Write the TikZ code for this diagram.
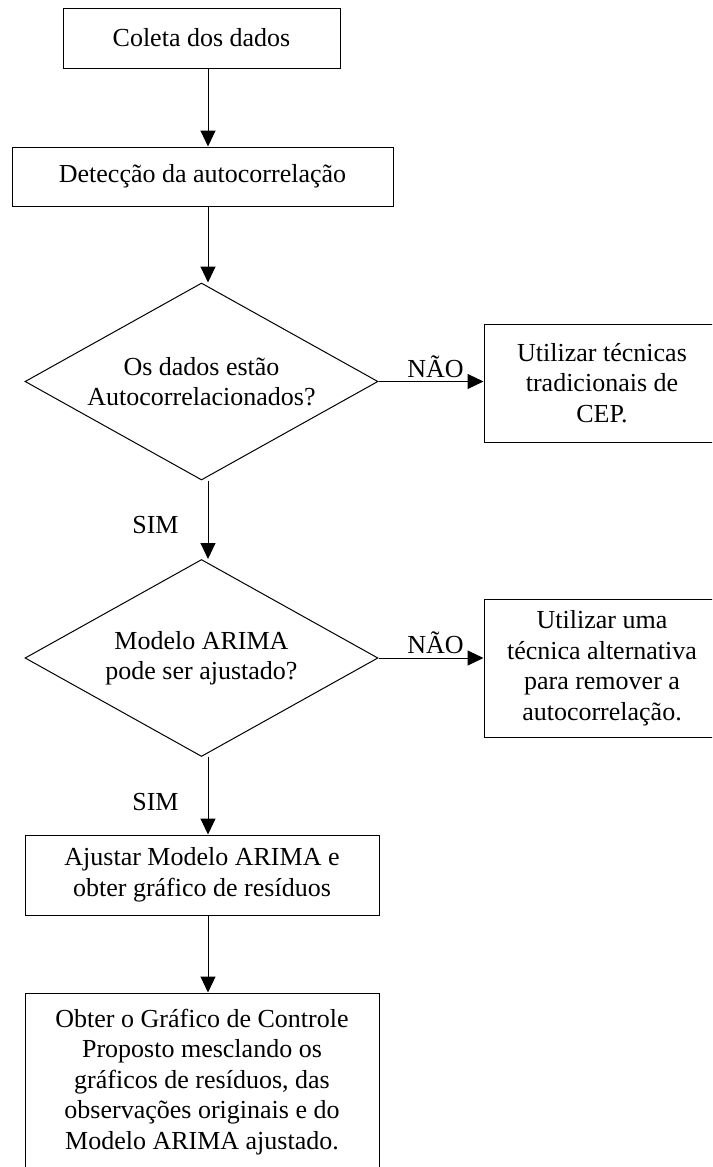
\documentclass[tikz,border=0pt]{standalone}
\usepackage{fontspec}
\setmainfont{Liberation Serif}
\usetikzlibrary{shapes.geometric,arrows.meta}
\tikzset{
  base/.style={draw, line width=1pt, inner sep=0pt, align=center, font=\fontsize{26}{30.5}\selectfont},
  procbox/.style={base, rectangle},
  decision/.style={base, diamond, shape aspect=1.79, minimum width=353pt, minimum height=197pt},
  arr/.style={line width=1pt, -{Triangle[length=16pt,width=15pt]}},
  lbl/.style={inner sep=0pt, font=\fontsize{26}{30}\selectfont}
}
\begin{document}
\begin{tikzpicture}[x=1pt,y=-1pt]
\useasboundingbox (0,0) rectangle (712,1167);
\clip (0,0) rectangle (712,1167);
\coordinate (col) at (208,0);
\node[procbox, minimum width=277pt, minimum height=60pt] (b1) at (201.5,38) {Coleta dos dados};
\node[procbox, minimum width=381pt, minimum height=59pt] (b2) at (202.5,176.5) {Detecção da autocorrelação};
\node[decision] (d1) at (201.5,381.5) {Os dados estão\\Autocorrelacionados?};
\node[procbox, minimum width=236pt, minimum height=118pt] (r1) at (602,383) {Utilizar técnicas\\tradicionais de\\CEP.};
\node[decision] (d2) at (201.5,658) {Modelo ARIMA\\pode ser ajustado?};
\node[procbox, minimum width=236pt, minimum height=138pt] (r2) at (602,668) {Utilizar uma\\técnica alternativa\\para remover a\\autocorrelação.};
\node[procbox, minimum width=354pt, minimum height=80pt] (b3) at (202,875) {Ajustar Modelo ARIMA e\\obter gráfico de resíduos};
\node[procbox, minimum width=354pt, minimum height=178pt] (b4) at (202,1082) {Obter o Gráfico de Controle\\Proposto mesclando os\\gráficos de resíduos, das\\observações originais e do\\Modelo ARIMA ajustado.};
\draw[arr] (b1.south -| col) -- (b2.north -| col);
\draw[arr] (b2.south -| col) -- (d1.north -| col);
\draw[arr] (d1.south -| col) -- (d2.north -| col);
\draw[arr] (d2.south -| col) -- (b3.north -| col);
\draw[arr] (b3.south -| col) -- (b4.north -| col);
\draw[arr] (d1.east) -- (r1.west |- d1.east);
\draw[arr] (d2.east) -- (r2.west |- d2.east);
\node[lbl] (s1) at (155.5,525) {SIM};
\node[lbl] (s2) at (155.5,802) {SIM};
\node[lbl] (n1) at (435.5,367) {NÃO};
\node[lbl] (n2) at (435.5,643) {NÃO};
\end{tikzpicture}
\end{document}
